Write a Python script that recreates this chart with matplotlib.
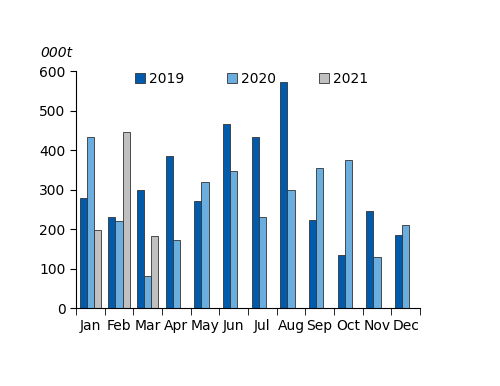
import numpy as np
import matplotlib
matplotlib.use("Agg")
import matplotlib.pyplot as plt

months = ["Jan", "Feb", "Mar", "Apr", "May", "Jun",
          "Jul", "Aug", "Sep", "Oct", "Nov", "Dec"]
y2019 = [278, 230, 299, 386, 272, 467, 433, 571, 224, 135, 245, 184]
y2020 = [433, 220, 82, 173, 320, 348, 230, 299, 354, 375, 130, 210]
y2021 = [198, 446, 183]
years = ["2019", "2020", "2021"]
colors = ["#005bac", "#6aaee0", "#c0c0c0"]

plt.rcParams['font.family'] = ['DejaVu Sans']

fig = plt.figure(figsize=(5, 3.86), dpi=100)
ax = fig.add_axes([0.152, 0.202, 0.688, 0.614])

x = np.arange(len(months))
w = 0.25
series = [y2019, y2020, y2021]
for i, (vals, c, lab) in enumerate(zip(series, colors, years)):
    xs = x[:len(vals)] + (i - 1) * w
    ax.bar(xs, vals, width=w, color=c, edgecolor="#333333",
           linewidth=0.6, label=lab)

ax.set_xlim(-0.5, 11.5)
ax.set_ylim(0, 600)
ax.set_yticks(range(0, 601, 100))
ax.set_xticks(x)
ax.set_xticklabels(months, fontsize=10)
ax.set_xticks(np.arange(-0.5, 12, 1), minor=True)
ax.tick_params(axis="x", which="major", length=0, pad=8)
ax.tick_params(axis="x", which="minor", length=5, direction="out")
ax.tick_params(axis="y", length=4, direction="out", labelsize=10)

for s in ["top", "right"]:
    ax.spines[s].set_visible(False)

ax.text(-0.105, 1.045, "000t", transform=ax.transAxes, fontsize=10,
        style="italic", ha="left", va="bottom")

ax.legend(loc="upper center", bbox_to_anchor=(0.51, 1.05), ncol=3,
          frameon=False, fontsize=10, handlelength=0.7, handleheight=0.7,
          handletextpad=0.3, columnspacing=3.1)

fig.savefig("out.png", dpi=100)
